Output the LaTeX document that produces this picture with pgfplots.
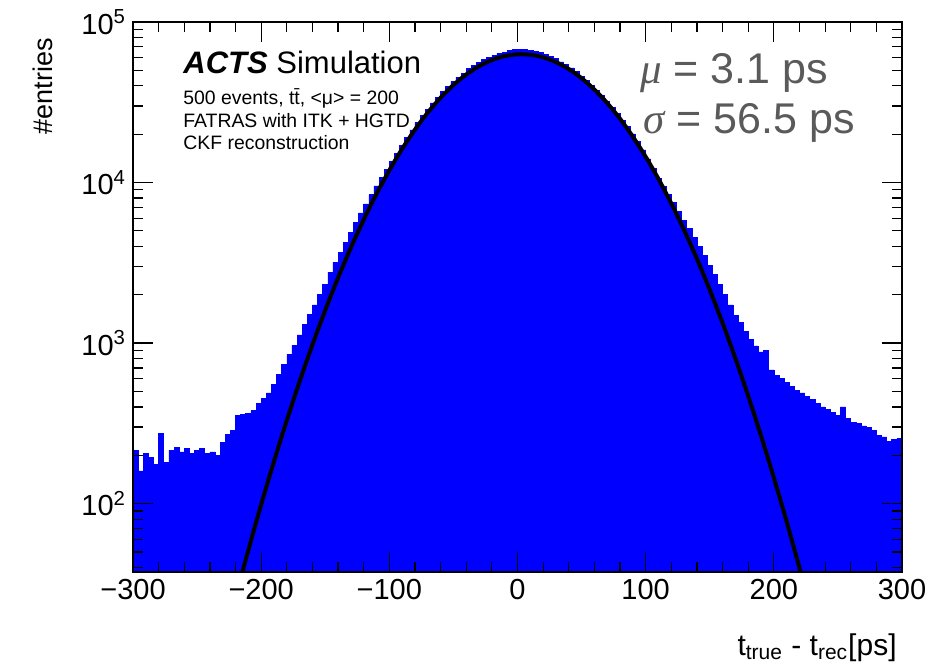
\documentclass[border=0pt]{standalone}
\usepackage{pgfplots}
\pgfplotsset{compat=1.18}
\usepackage{fontspec}
\setmainfont{Liberation Sans}
\newfontfamily\seriffont{Liberation Serif}
\definecolor{histblue}{RGB}{0,0,255}
\definecolor{txtgray}{RGB}{90,90,90}

\pgfplotstableread{
x y
-300 215
-296 160
-292 205
-288 195
-284 175
-280 275
-276 180
-272 215
-268 225
-264 210
-260 220
-256 205
-252 215
-248 220
-244 205
-240 210
-236 200
-232 240
-228 270
-224 285
-220 355
-216 360
-212 365
-208 380
-204 420
-200 450
-196 490
-192 550
-188 640
-184 735
-180 850
-176 970
-172 1125
-168 1300
-164 1500
-160 1730
-156 2010
-152 2320
-148 2770
-144 3190
-140 3680
-136 4250
-132 4910
-128 5650
-124 6460
-120 7350
-116 8390
-112 9520
-108 10740
-104 12060
-100 13530
-96 15100
-92 17020
-88 19080
-84 21280
-80 23610
-76 26070
-72 28640
-68 31310
-64 34060
-60 36860
-56 39700
-52 42530
-48 45350
-44 48100
-40 51260
-36 53830
-32 56250
-28 58490
-24 60500
-20 62280
-16 63790
-12 65010
-8 66540
-4 67140
0 67400
4 67320
8 66910
12 65550
16 64500
20 62550
24 60930
28 59060
32 56420
36 54140
40 51690
44 49110
48 45980
52 43240
56 40470
60 37690
64 34920
68 32190
72 29530
76 26950
80 24470
84 22330
88 20080
92 17960
96 15990
100 14020
104 12240
108 10620
112 9450
116 8450
120 7500
124 6620
128 5810
132 5160
136 4550
140 4020
144 3500
148 3050
152 2670
156 2320
160 2000
164 1730
168 1490
172 1350
176 1180
180 1050
184 960
188 880
192 900
196 680
200 630
204 600
208 570
212 540
216 510
220 490
224 465
228 446
232 420
236 400
240 385
244 370
248 355
252 400
256 340
260 320
264 315
268 305
272 300
276 285
280 265
284 260
288 245
292 250
296 255
300 255
}\histtable

\pgfplotstableread{
x y
-220 25.9
-210 51.3
-200 98.5
-190 183.2
-180 329.9
-170 576
-160 976
-150 1603
-140 2549
-130 3929
-120 5869
-110 8499
-100 11920
-90 16210
-80 21357
-70 27279
-60 33768
-50 40509
-40 47093
-30 53065
-20 57947
-10 61331
0 62905
10 62532
20 60244
30 56249
40 50900
50 44639
60 37940
70 31252
80 24951
90 19304
100 14474
110 10519
120 7407
130 5056
140 3346
150 2145
160 1333
170 803
180 468
190 265
200 145
210 77.2
220 39.7
230 19.8
}\fittable

\begin{document}
\begin{tikzpicture}
\useasboundingbox (-66.5pt,-48pt) rectangle (398pt,286pt);
\begin{axis}[
  at={(0pt,0pt)}, anchor=south west,
  scale only axis, width=384.5pt, height=275pt,
  xmin=-300, xmax=300,
  ymode=log, log basis y=10, ymin=37.5, ymax=1e5,
  axis on top, clip mode=individual,
  axis line style={black, line width=0.75pt},
  tick pos=both, xticklabel pos=lower, yticklabel pos=left,
  tick align=inside,
  xtick={-300,-200,-100,0,100,200,300},
  xticklabels={−300,−200,−100,0,100,200,300},
  minor x tick num=4,
  ytick={100,1000,10000,100000},
  yticklabels={10\textsuperscript{2},10\textsuperscript{3},10\textsuperscript{4},10\textsuperscript{5}},
  minor ytick={40,50,60,70,80,90,200,300,400,500,600,700,800,900,2000,3000,4000,5000,6000,7000,8000,9000,20000,30000,40000,50000,60000,70000,80000,90000},
  major tick length=10pt, minor tick length=5pt,
  every tick/.style={black, line width=0.6pt},
  ticklabel style={font=\fontsize{14.5}{16}\selectfont},
]
\addplot[const plot, fill=histblue, draw=histblue, line width=0.3pt] table {\histtable} \closedcycle;
\addplot[black, line width=2pt, smooth] table {\fittable};

\node[anchor=base west, inner sep=0pt, font=\fontsize{15.5}{17}\selectfont] at (rel axis cs:0.065,0.9067) {\textbf{\textit{ACTS}} Simulation};
\node[anchor=base west, inner sep=0pt, font=\fontsize{9.7}{11}\selectfont] at (rel axis cs:0.065,0.8504) {500 events, t\={t}, <μ> = 200};
\node[anchor=base west, inner sep=0pt, font=\fontsize{9.7}{11}\selectfont] at (rel axis cs:0.065,0.8085) {FATRAS with ITK + HGTD};
\node[anchor=base west, inner sep=0pt, font=\fontsize{9.7}{11}\selectfont] at (rel axis cs:0.065,0.7685) {CKF reconstruction};

\node[anchor=base west, inner sep=0pt, text=txtgray, font=\fontsize{21.5}{23}\selectfont] at (rel axis cs:0.6593,0.8885) {{\seriffont\itshape μ} = 3.1 ps};
\node[anchor=base west, inner sep=0pt, text=txtgray, font=\fontsize{21.5}{23}\selectfont] at (rel axis cs:0.6632,0.7976) {{\seriffont\itshape σ} = 56.5 ps};

\node[anchor=base east, inner sep=0pt, font=\fontsize{15}{17}\selectfont] at ([shift={(-2.5pt,-41.5pt)}]rel axis cs:1,0) {t\textsubscript{true} - t\textsubscript{rec}[ps]};
\node[rotate=90, anchor=base east, inner sep=0pt, font=\fontsize{13.5}{15}\selectfont] at ([shift={(-40pt,-8pt)}]rel axis cs:0,1) {\#entries};
\end{axis}
\end{tikzpicture}
\end{document}
